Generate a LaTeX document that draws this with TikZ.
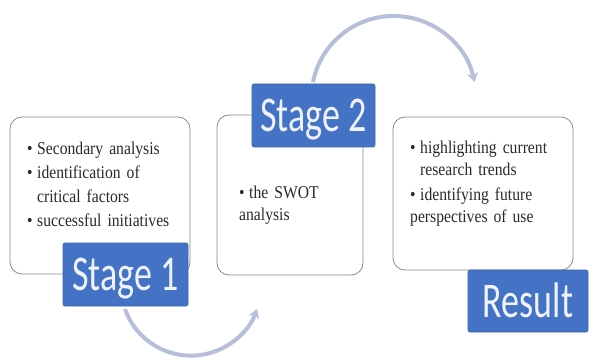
\documentclass[tikz,border=0pt]{standalone}
\usepackage{fontspec}
\usetikzlibrary{arrows.meta}
\newfontfamily\bodyfont[FakeStretch=0.87]{Liberation Serif}
\newfontfamily\stagefont[FakeStretch=0.72]{Carlito}
\definecolor{stageblue}{HTML}{4472C4}
\definecolor{stageedge}{HTML}{3A64AE}
\definecolor{stagetext}{HTML}{EEF3FC}
\definecolor{arccol}{HTML}{B6BEDA}
\definecolor{boxedge}{HTML}{8A8A8A}
\definecolor{bodycol}{HTML}{2A2A2A}
\newcommand\bitem[1]{\par\hangindent=10pt\hangafter=1\noindent\makebox[10pt][l]{\textbullet}#1}
\tikzset{
  whitebox/.style={draw=boxedge, line width=0.8pt, fill=white, rounded corners=12pt, inner sep=0pt},
  bluebox/.style={draw=stageedge, line width=0.6pt, fill=stageblue, rounded corners=2pt, inner sep=0pt,
    text=stagetext, font=\stagefont\fontsize{50}{52}\selectfont, text height=32pt, text depth=0pt},
  bodytext/.style={inner sep=0pt, anchor=north west, text width=#1, text=bodycol,
    font=\bodyfont\fontsize{18}{24}\selectfont},
  arcline/.style={draw=arccol, line width=4pt, -{Stealth[length=9pt,width=11pt]}}
}
\begin{document}
\begin{tikzpicture}[x=1pt,y=-1pt]
\useasboundingbox (0,0) rectangle (590,361);
\fill[white] (0,0) rectangle (590,361);
% arcs
\coordinate (arcAstart) at (125,309);
\coordinate (arcBstart) at (313,82);
\draw[arcline] (arcAstart) arc[start angle=199.5, end angle=340.5, radius=70pt];
\draw[arcline] (arcBstart) arc[start angle=168.6, end angle=11.4, radius=82.3pt];
% white boxes
\node[whitebox, minimum width=180pt, minimum height=157pt] (box1) at (100,195.5) {};
\node[whitebox, minimum width=146pt, minimum height=160pt] (box2) at (290,195) {};
\node[whitebox, minimum width=180pt, minimum height=153pt] (box3) at (483,193.5) {};
% texts
\node[bodytext=170pt] (txt1) at (27,130) {\raggedright\bitem{Secondary analysis}\bitem{identification of\newline critical factors}\bitem{successful initiatives}};
\node[bodytext=120pt, font=\bodyfont\fontsize{18}{22}\selectfont] (txt2) at (239,176) {\raggedright\bitem{the SWOT\newline analysis}};
\node[bodytext=170pt, font=\bodyfont\fontsize{18}{22}\selectfont] (txt3) at (410,131) {\raggedright\bitem{highlighting current\newline research trends}\par\vspace{3pt}\bitem{identifying future\newline perspectives of use}};
% blue labels
\node[bluebox, minimum width=125pt, minimum height=63pt] (stage1) at (125.5,274.5) {Stage 1};
\node[bluebox, minimum width=123pt, minimum height=63pt] (stage2) at (313.5,115.5) {Stage 2};
\node[bluebox, minimum width=120pt, minimum height=62pt] (result) at (528,301) {Result};
\end{tikzpicture}
\end{document}
